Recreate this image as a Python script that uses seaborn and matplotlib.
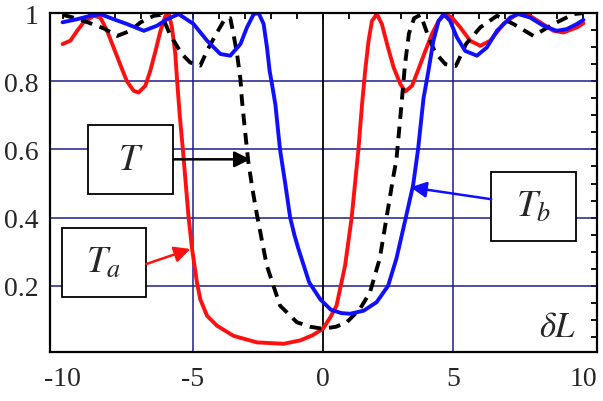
import numpy as np
import pandas as pd
import matplotlib
matplotlib.use("Agg")
import matplotlib.pyplot as plt
import seaborn as sns
from matplotlib.patches import Rectangle
from matplotlib.ticker import MultipleLocator, FixedLocator

# curves
ta_x = [-10.0, -9.7, -9.44, -9.19, -8.8, -8.55, -8.29, -8.04, -7.79, -7.53, -7.27, -7.08,
        -6.82, -6.63, -6.43, -6.24, -6.05, -5.92, -5.8, -5.67, -5.6, -5.5, -5.38, -5.16,
        -5.03, -4.84, -4.71, -4.45, -4.07, -3.43, -2.53, -1.51, -0.87, -0.4, 0.0, 0.3,
        0.52, 0.85, 1.1, 1.36, 1.5, 1.62, 1.75, 1.88, 2.07, 2.26, 2.46, 2.71, 2.97, 3.16,
        3.42, 3.67, 3.93, 4.18, 4.44, 4.69, 4.95, 5.27, 5.65, 6.04, 6.42, 6.93, 7.44, 7.83,
        8.34, 8.85, 9.23, 9.75, 10.0]
ta_y = [0.909, 0.919, 0.948, 0.973, 0.992, 0.987, 0.948, 0.899, 0.85, 0.80, 0.772, 0.767,
        0.787, 0.831, 0.889, 0.948, 0.992, 0.997, 0.958, 0.88, 0.80, 0.70, 0.6, 0.4,
        0.31, 0.21, 0.16, 0.112, 0.083, 0.053, 0.034, 0.03, 0.04, 0.055, 0.074, 0.11,
        0.142, 0.26, 0.40, 0.6, 0.733, 0.831, 0.919, 0.977, 0.997, 0.968, 0.909, 0.841, 0.792, 0.77,
        0.787, 0.836, 0.889, 0.938, 0.977, 0.997, 0.987, 0.958, 0.919, 0.904, 0.919, 0.968, 0.997, 0.997,
        0.973, 0.948, 0.943, 0.958, 0.97]

tb_x = [-10.0, -9.44, -8.93, -8.55, -8.04, -7.53, -6.88, -6.37, -5.99, -5.54, -4.97, -4.45,
        -3.94, -3.56, -3.17, -2.92, -2.66, -2.47, -2.28, -2.15, -2.05, -1.96, -1.83, -1.65,
        -1.45, -1.26, -1.1, -0.95, -0.53, -0.1, 0.3, 0.7, 1.04, 1.56, 2.06, 2.5, 2.82, 3.18,
        3.46, 3.65, 3.86, 4.05, 4.24, 4.44, 4.63, 4.88, 5.14, 5.46, 5.91, 6.29, 6.68, 7.19,
        7.5, 7.95, 8.46, 8.97, 9.36, 9.75, 10.0]
tb_y = [0.973, 0.982, 0.992, 0.997, 0.982, 0.968, 0.948, 0.963, 0.982, 0.997, 0.968, 0.919,
        0.88, 0.875, 0.909, 0.958, 0.997, 1.0, 0.968, 0.899, 0.831, 0.792, 0.733, 0.6,
        0.5, 0.4, 0.35, 0.31, 0.21, 0.16, 0.13, 0.12, 0.118, 0.127, 0.152, 0.2, 0.28, 0.4,
        0.495, 0.6, 0.75, 0.831, 0.919, 0.977, 0.997, 0.977, 0.929, 0.889, 0.875, 0.899, 0.948, 0.987,
        0.997, 0.987, 0.963, 0.948, 0.953, 0.968, 0.98]

t_x = [-10.0, -9.5, -9.0, -8.42, -7.9, -7.4, -7.0, -6.5, -6.2, -5.86, -5.42, -5.1, -4.71,
       -4.45, -4.07, -3.75, -3.56, -3.43, -3.3, -3.17, -3.11, -3.0, -2.87, -2.7, -2.54,
       -2.16, -1.65, -1.0, -0.5, 0.0, 0.5, 0.91, 1.4, 1.8, 2.18, 2.44, 2.7, 2.82, 3.0,
       3.15, 3.3, 3.5, 3.75, 4.05, 4.31, 4.7, 5.1, 5.5, 6.04, 6.68, 7.31, 8.08, 8.85, 9.62, 10.0]
t_y = [0.995, 0.985, 0.972, 0.955, 0.933, 0.948, 0.973, 0.992, 0.995, 0.935, 0.88, 0.855, 0.846,
       0.89, 0.943, 0.985, 0.985, 0.935, 0.88, 0.806, 0.743, 0.66, 0.565, 0.48, 0.41,
       0.26, 0.142, 0.093, 0.08, 0.074, 0.08, 0.093, 0.13, 0.18, 0.28, 0.40, 0.52, 0.57, 0.72,
       0.85, 0.94, 0.985, 0.995, 0.93, 0.884, 0.85, 0.845, 0.91, 0.958, 0.992, 0.968, 0.933, 0.968, 0.997, 1.0]

x_ticks = [-10, -5, 0, 5, 10]
x_labels = ["-10", "-5", "0", "5", "10"]
y_ticks = [0.2, 0.4, 0.6, 0.8, 1.0]
y_labels = ["0.2", "0.4", "0.6", "0.8", "1"]

sns.set_theme(style="white")
plt.rcParams["font.family"] = ["Liberation Serif", "DejaVu Serif"]
plt.rcParams["mathtext.fontset"] = "stix"

navy = "#1c1c8e"
red = "#ff1010"
blue = "#1010ff"

fig = plt.figure(figsize=(6.03, 4.02), dpi=100)
ax = fig.add_axes([0.083, 0.122, 0.907, 0.843])

for v in [0.2, 0.4, 0.6, 0.8]:
    ax.axhline(v, color=navy, lw=1.1, zorder=1)
for v in [-5, 5]:
    ax.axvline(v, color=navy, lw=1.1, zorder=1)
ax.axvline(0, color="black", lw=1.3, zorder=1)

sns.lineplot(x=ta_x, y=ta_y, ax=ax, color=red, lw=2.8, sort=False, estimator=None, zorder=3)
sns.lineplot(x=t_x, y=t_y, ax=ax, color="black", lw=2.8, sort=False, estimator=None, zorder=3,
             linestyle=(0, (3.0, 2.0)))
sns.lineplot(x=tb_x, y=tb_y, ax=ax, color=blue, lw=2.8, sort=False, estimator=None, zorder=4)

ax.set_xlim(-10.48, 10.52)
ax.set_ylim(0.006, 1.0)

ax.xaxis.set_major_locator(FixedLocator(x_ticks))
ax.set_xticklabels(x_labels)
ax.xaxis.set_minor_locator(MultipleLocator(1))
ax.yaxis.set_major_locator(FixedLocator(y_ticks))
ax.set_yticklabels(y_labels)
ax.yaxis.set_minor_locator(MultipleLocator(0.05))
ax.tick_params(which="both", direction="in", top=True, right=True, color="black",
               width=1.3, length=4)
ax.tick_params(axis="x", labelsize=20, pad=10)
ax.tick_params(axis="y", labelsize=20, pad=8)
for s in ax.spines.values():
    s.set_color("black")
    s.set_linewidth(1.6)
    s.set_zorder(5)

# label boxes with arrows
def box(x0, y0, x1, y1, label):
    ax.add_patch(Rectangle((x0, y0), x1 - x0, y1 - y0, facecolor="white",
                           edgecolor="black", lw=1.3, zorder=6))
    ax.text((x0 + x1) / 2, (y0 + y1) / 2, label, ha="center", va="center",
            fontsize=27, zorder=7)

box(-9.04, 0.469, -5.74, 0.671, r"$T$")
box(-10.04, 0.167, -6.78, 0.369, r"$T_a$")
box(6.46, 0.331, 9.72, 0.534, r"$T_b$")

arrow = dict(arrowstyle="-|>", lw=1.8, mutation_scale=24, shrinkA=0, shrinkB=0)
ax.annotate("", xy=(-2.79, 0.571), xytext=(-5.74, 0.571),
            arrowprops=dict(arrow, color="black"), zorder=7)
ax.annotate("", xy=(-5.09, 0.308), xytext=(-6.78, 0.264),
            arrowprops=dict(arrow, color=red), zorder=7)
ax.annotate("", xy=(3.36, 0.489), xytext=(6.46, 0.454),
            arrowprops=dict(arrow, color=blue), zorder=7)

ax.text(9.03, 0.079, r"$\delta L$", ha="center", va="center", fontsize=25, zorder=7)

fig.savefig("out.png", dpi=100)
